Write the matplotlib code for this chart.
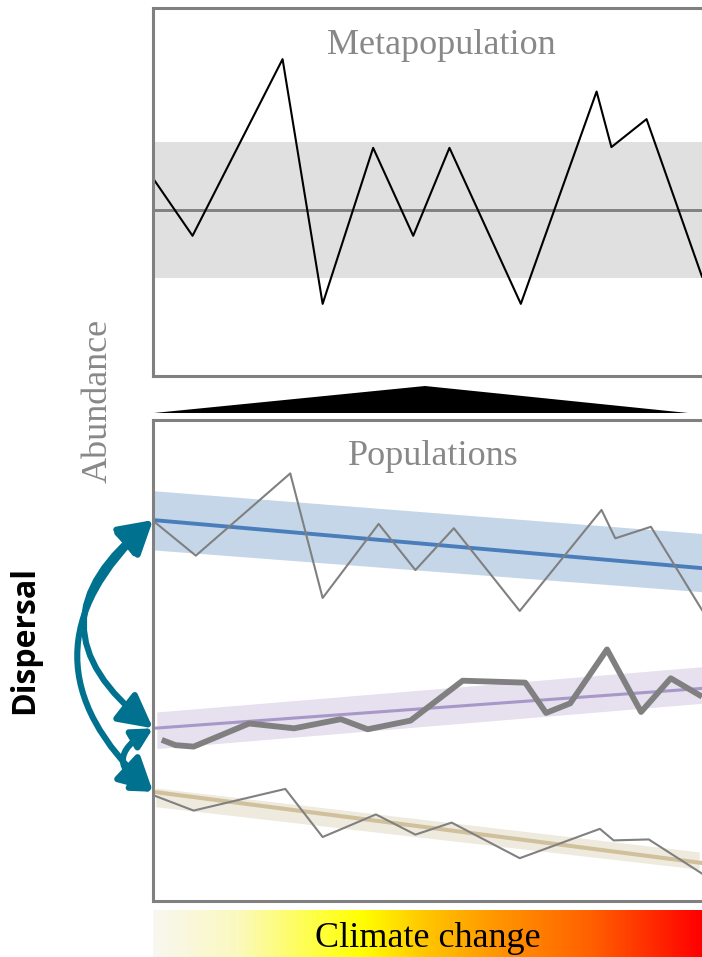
import numpy as np
import matplotlib.pyplot as plt
from matplotlib.patches import FancyArrowPatch, Polygon
from matplotlib.colors import LinearSegmentedColormap

W, H = 702, 957

# time runs 0..100 across both panels, abundance 0..100 inside each panel
meta_t = [0.2, 7.2, 23.6, 30.9, 40.1, 47.4, 54.0, 67.0, 80.8, 83.5, 89.9, 100]
meta_n = [53.3, 38.1, 86.1, 19.6, 62.0, 38.1, 62.0, 19.6, 77.3, 62.2, 69.8, 27.0]
meta_mean = 45.1
meta_sd = 18.45

pop1_t = [0.5, 7.8, 25.0, 30.9, 41.1, 47.8, 54.8, 66.8, 81.7, 84.2, 90.7, 100]
pop1_n = [78.6, 71.8, 88.9, 63.0, 78.4, 68.8, 77.5, 60.3, 81.3, 75.4, 77.8, 60.5]
pop1_trend = [79.2, 69.2]
pop1_hi = [85.3, 76.4]
pop1_lo = [73.0, 64.3]

pop2_t = [1.6, 4.1, 7.4, 17.5, 25.7, 34.2, 39.1, 46.9, 56.4, 67.8, 71.6, 76.0, 82.7, 88.9, 94.3, 100]
pop2_n = [33.5, 32.4, 32.1, 36.9, 35.9, 37.8, 35.7, 37.5, 45.8, 45.4, 39.1, 41.1, 52.3, 39.3, 46.3, 42.5]
pop2_trend = [35.9, 44.2]
pop2_hi = [39.3, 48.7]
pop2_lo = [31.7, 41.1]

pop3_t = [0.5, 7.4, 24.1, 30.9, 40.6, 47.8, 54.4, 66.8, 81.4, 83.9, 90.3, 100]
pop3_n = [21.8, 18.8, 23.3, 13.3, 18.0, 13.8, 16.3, 8.9, 15.0, 12.6, 12.8, 5.7]
pop3_trend = [22.7, 7.9]
pop3_hi = [23.5, 10.2]
pop3_lo = [19.6, 6.6]

climate_colors = ["#f8f7f0", "#fbf9c0", "#ffff40", "#ffff00", "#ffc400", "#ff9800", "#ff6000", "#ff0000"]
climate_stops = [0.0, 0.15, 0.3, 0.38, 0.5, 0.62, 0.8, 1.0]

SPINE = "#808080"
ARROW = "#00728f"
SERIF = ["Liberation Serif", "DejaVu Serif"]


def px_axes(left, top, right, bottom):
    return fig.add_axes([left / W, 1 - bottom / H, (right - left) / W, (bottom - top) / H])


def frame(ax):
    ax.set_xlim(0, 100)
    ax.set_ylim(0, 100)
    ax.set_xticks([])
    ax.set_yticks([])
    for s in ["left", "top", "bottom"]:
        ax.spines[s].set_color(SPINE)
        ax.spines[s].set_linewidth(2.2)
    ax.spines["right"].set_visible(False)


fig = plt.figure(figsize=(W / 100, H / 100), dpi=100)

# ---- metapopulation panel ----
ax1 = px_axes(153, 8, 702, 376)
frame(ax1)
ax1.axhspan(meta_mean - meta_sd, meta_mean + meta_sd, color="#e0e0e0", lw=0)
ax1.axhline(meta_mean, color="#808080", lw=2.1)
ax1.plot(meta_t, meta_n, color="black", lw=1.5)
ax1.text(0.525, 0.897, "Metapopulation", transform=ax1.transAxes, ha="center", va="center",
         fontsize=26, color="#888888", family=SERIF)

# ---- populations panel ----
ax2 = px_axes(153, 420, 702, 901)
frame(ax2)
ends = [0, 100]
ax2.fill_between(ends, pop1_lo, pop1_hi, color="#c5d6e8", lw=0)
ax2.fill_between([0.7, 100], pop2_lo, pop2_hi, color="#e6e0ef", lw=0)
ax2.fill_between([0.5, 99.5], pop3_lo, pop3_hi, color="#eeeade", lw=0)
ax2.plot(ends, pop1_trend, color="#4a7ebb", lw=2.8)
ax2.plot(ends, pop2_trend, color="#a898c8", lw=2.2)
ax2.plot(ends, pop3_trend, color="#d0c09c", lw=2.9)
ax2.plot(pop1_t, pop1_n, color="#808080", lw=1.5)
ax2.plot(pop2_t, pop2_n, color="#808080", lw=4.2, solid_joinstyle="round", solid_capstyle="butt")
ax2.plot(pop3_t, pop3_n, color="#808080", lw=1.5)
ax2.text(0.51, 0.924, "Populations", transform=ax2.transAxes, ha="center", va="center",
         fontsize=26, color="#888888", family=SERIF)

# dispersal arrows between population starts
starts = [pop1_trend[0], pop2_trend[0], pop3_trend[0]]
for a, b, rad, head in [(0, 1, 0.64, 24), (0, 2, 0.54, 24), (1, 2, 0.86, 14)]:
    arr = FancyArrowPatch((0, starts[a]), (0, starts[b]), transform=ax2.transData,
                          connectionstyle=f"arc3,rad={rad}",
                          arrowstyle="<|-|>,head_length=0.85,head_width=0.45",
                          mutation_scale=head, lw=4.4, color=ARROW,
                          shrinkA=0, shrinkB=0, clip_on=False)
    fig.add_artist(arr)

# aggregation wedge between panels
fig.add_artist(Polygon([(154 / W, 1 - 413 / H), (425 / W, 1 - 386 / H), (688 / W, 1 - 413 / H)],
                       closed=True, transform=fig.transFigure, color="black", lw=0))

# ---- climate gradient ----
ax3 = px_axes(153, 910, 702, 957)
cmap = LinearSegmentedColormap.from_list("climate", list(zip(climate_stops, climate_colors)))
ax3.imshow(np.linspace(0, 1, 512)[None, :], aspect="auto", cmap=cmap, extent=[0, 1, 0, 1])
ax3.set_axis_off()
ax3.text(0.501, 0.39, "Climate change", transform=ax3.transAxes, ha="center", va="center",
         fontsize=26, color="black", family=SERIF)

fig.text(98 / W, 1 - 401 / H, "Abundance", rotation=90, ha="center", va="center",
         fontsize=26, color="#888888", family=SERIF)
fig.text(25 / W, 1 - 640 / H, "Dispersal", rotation=90, ha="center", va="center",
         fontsize=23, fontweight="bold", color="black", family=["Open Sans", "DejaVu Sans"])

fig.savefig("out.png", dpi=100)
